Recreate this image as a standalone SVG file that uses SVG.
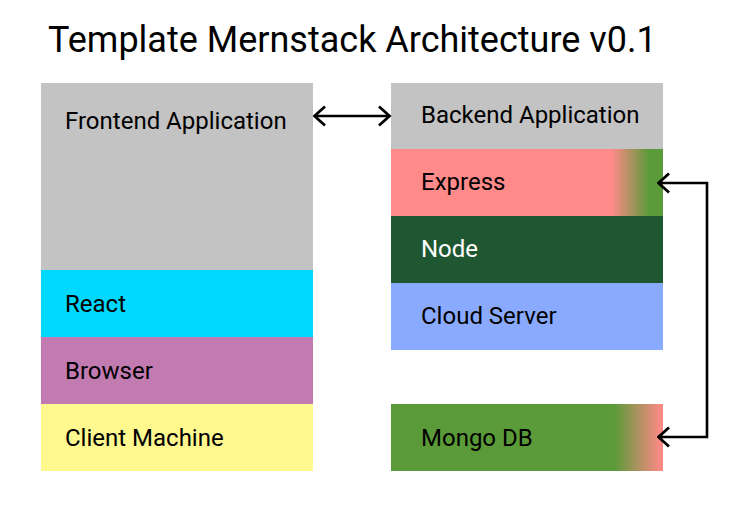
<svg xmlns="http://www.w3.org/2000/svg" width="740" height="522" viewBox="0 0 740 522">
<style>
text{font-family:Roboto,"Liberation Sans",sans-serif;fill:#000}
.t{font-size:24px}
.w{fill:#fff}
.c{fill:none;stroke:#000;stroke-width:2.6}
</style>
<defs>
<marker id="ah" viewBox="0 0 14 22" refX="12.5" refY="11" markerWidth="14" markerHeight="22" markerUnits="userSpaceOnUse" orient="auto-start-reverse">
<path d="M1.5,1.5 L12,11 L1.5,20.5" fill="none" stroke="#000" stroke-width="2.8"/>
</marker>
<linearGradient id="gExp" x1="0" x2="1" y1="0" y2="0">
<stop offset="0.81" stop-color="#FF8A8A"/>
<stop offset="0.95" stop-color="#5B9A38"/>
</linearGradient>
<linearGradient id="gMon" x1="0" x2="1" y1="0" y2="0">
<stop offset="0.82" stop-color="#5B9A38"/>
<stop offset="0.99" stop-color="#F98A84"/>
</linearGradient>
</defs>
<rect width="740" height="522" fill="#fff"/>
<text x="48" y="52" font-size="36">Template Mernstack Architecture v0.1</text>
<g id="frontend"><rect x="41" y="83" width="272" height="187" fill="#C3C3C3"/><text class="t" x="65" y="129">Frontend Application</text></g>
<g id="react"><rect x="41" y="270" width="272" height="67" fill="#00D8FF"/><text class="t" x="65" y="312">React</text></g>
<g id="browser"><rect x="41" y="337" width="272" height="67" fill="#C27BB0"/><text class="t" x="65" y="379">Browser</text></g>
<g id="client"><rect x="41" y="404" width="272" height="67" fill="#FFF88F"/><text class="t" x="65" y="446">Client Machine</text></g>
<g id="backend"><rect x="391" y="83" width="272" height="66" fill="#C3C3C3"/><text class="t" x="421" y="123">Backend Application</text></g>
<g id="express"><rect x="391" y="149" width="272" height="67" fill="url(#gExp)"/><text class="t" x="421" y="190">Express</text></g>
<g id="node"><rect x="391" y="216" width="272" height="67" fill="#205733"/><text class="t w" x="421" y="257">Node</text></g>
<g id="cloud"><rect x="391" y="283" width="272" height="67" fill="#8AAAFF"/><text class="t" x="421" y="324">Cloud Server</text></g>
<g id="mongo"><rect x="391" y="404" width="272" height="67" fill="url(#gMon)"/><text class="t" x="421" y="446">Mongo DB</text></g>
<g id="connectors">
<path class="c" d="M314,116 L390,116" marker-start="url(#ah)" marker-end="url(#ah)"/>
<path class="c" d="M658,183 L707,183 L707,437 L658,437" marker-start="url(#ah)" marker-end="url(#ah)"/>
</g>
</svg>
